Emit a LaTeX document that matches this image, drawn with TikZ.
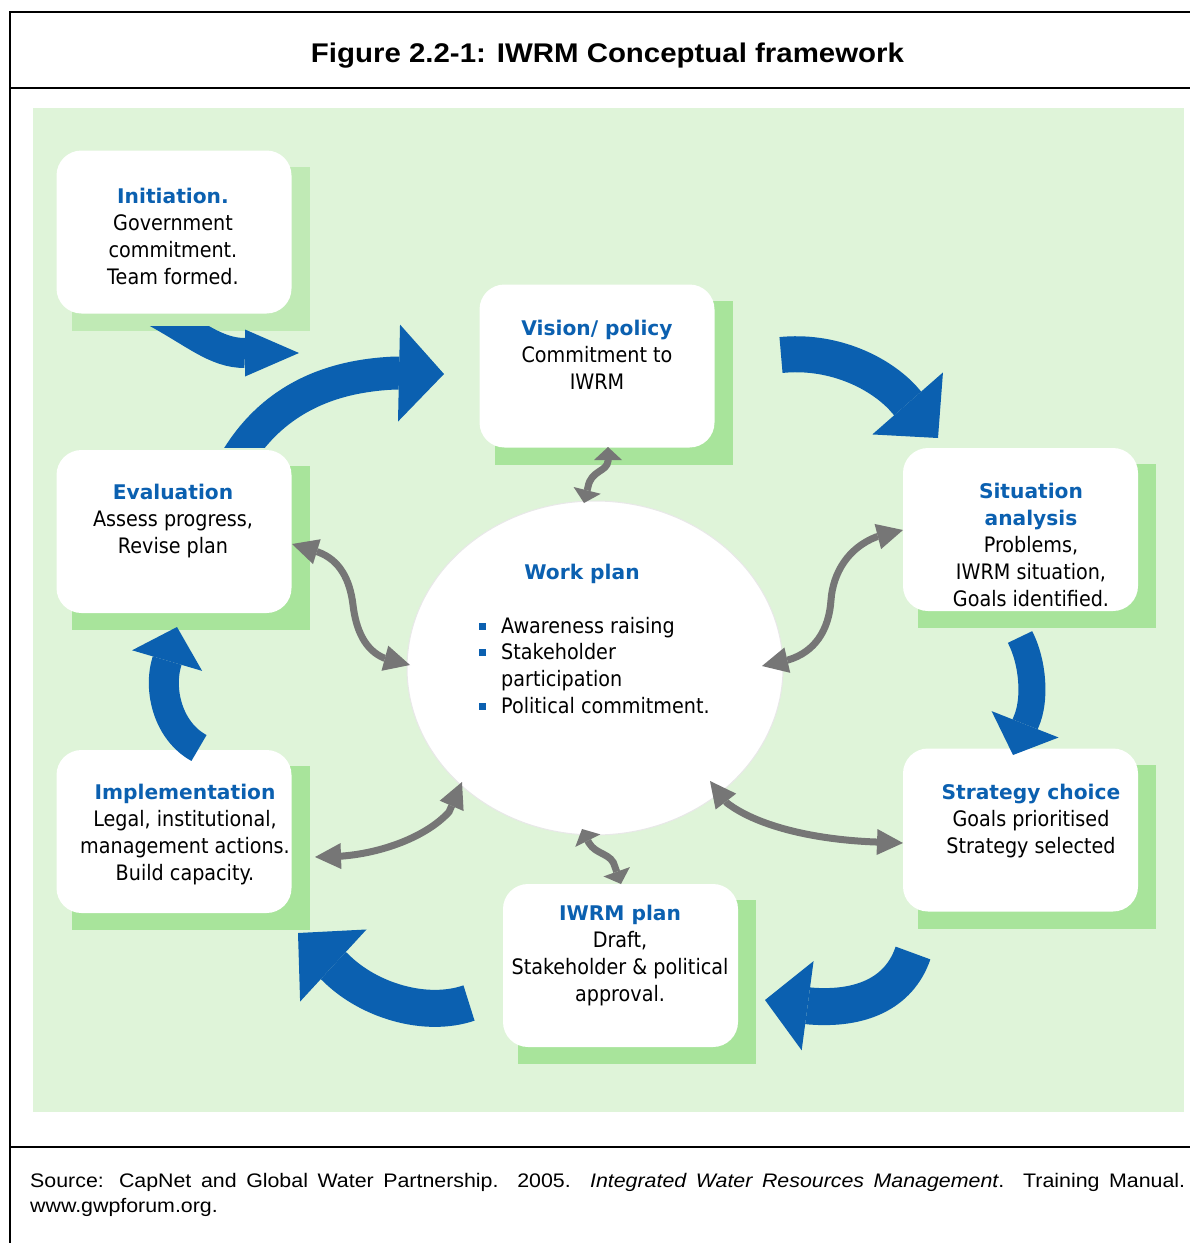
\documentclass[tikz,border=0pt]{standalone}
\usepackage{fontspec}
\usetikzlibrary{arrows.meta,shapes.geometric}
\newfontfamily\capfont[FakeStretch=1.09]{Liberation Sans}
\newfontfamily\bodyfam[FakeStretch=0.9]{DejaVu Sans}
\newfontfamily\headfam{DejaVu Sans}
\definecolor{panelgreen}{RGB}{223,244,217}
\definecolor{shadowgreen}{RGB}{168,228,155}
\definecolor{shadowlight}{RGB}{192,234,181}
\definecolor{iwblue}{RGB}{11,96,176}
\definecolor{arrgray}{RGB}{118,118,118}
\definecolor{ellline}{RGB}{232,232,232}
\newcommand{\boxhead}[1]{{\headfam\bfseries\fontsize{20.2}{27}\selectfont\color{iwblue}#1}}
\tikzset{
  framerule/.style={line width=2.2pt, draw=black},
  wbox/.style={fill=white, rounded corners=25pt, inner sep=0pt, minimum width=235pt, minimum height=163pt},
  shadowbox/.style={fill=shadowgreen, inner sep=0pt, minimum width=238pt, minimum height=164pt},
  boxtxt/.style={anchor=north, align=center, inner sep=0pt, font=\bodyfam\fontsize{21.3}{27}\selectfont},
  garrow/.style={draw=arrgray, line width=7pt, arrows={Triangle[length=26pt,width=26pt,line width=0pt]-Triangle[length=26pt,width=26pt,line width=0pt]}},
  gshort/.style={draw=arrgray, line width=7pt, arrows={Triangle[length=13pt,width=28pt,line width=0pt]-Triangle[length=13pt,width=28pt,line width=0pt]}},
  barrow/.style={draw=iwblue, line width=#1, line join=round},
}
\begin{document}
\begin{tikzpicture}[x=1pt,y=-1pt]
\useasboundingbox (0,0) rectangle (1190,1243);
\fill[white] (0,0) rectangle (1190,1243);
% frame
\draw[framerule] (10,1243) -- (10,12) -- (1190,12);
\draw[framerule] (10,88) -- (1190,88);
\draw[framerule] (10,1147) -- (1190,1147);
\node[anchor=base, inner sep=0pt, font=\capfont\bfseries\fontsize{27}{32}\selectfont] (title) at (607.5,62) {Figure 2.2-1: IWRM Conceptual framework};
% panel
\fill[panelgreen] (33,108) rectangle (1184,1112);
% shadows
\node[shadowbox, fill=shadowlight] (sh-init) at (190.5,248.5) {};
\node[shadowbox] (sh-vision) at (613.5,382.5) {};
\node[shadowbox] (sh-sit) at (1037,546) {};
\node[shadowbox] (sh-strat) at (1037,846.5) {};
\node[shadowbox] (sh-iwrm) at (637,982) {};
\node[shadowbox] (sh-impl) at (190.5,848) {};
\node[shadowbox] (sh-eval) at (190.5,548) {};
% white boxes
\node[wbox] (init) at (174,232) {};
\node[wbox] (vision) at (597,366) {};
\node[wbox] (sit) at (1020.5,529.5) {};
\node[wbox] (strat) at (1020.5,830) {};
\node[wbox] (iwrm) at (620.5,965.5) {};
\node[wbox] (impl) at (174,831.5) {};
\node[wbox] (eval) at (174,531.5) {};
% work plan ellipse
\node[ellipse, fill=white, draw=ellline, line width=1pt, minimum width=376pt, minimum height=334pt, inner sep=0pt] (work) at (595,668) {};
% texts
\node[boxtxt] (t-init) at (173,184) {\strut\boxhead{Initiation.}\\Government\\commitment.\\Team formed.};
\node[boxtxt] (t-vision) at (597,316) {\strut\boxhead{Vision/ policy}\\Commitment to\\IWRM};
\node[boxtxt] (t-sit) at (1031,479) {\strut\boxhead{Situation}\\\boxhead{analysis}\\Problems,\\IWRM situation,\\Goals identified.};
\node[boxtxt] (t-strat) at (1031,780) {\strut\boxhead{Strategy choice}\\Goals prioritised\\Strategy selected};
\node[boxtxt] (t-iwrm) at (620,901) {\strut\boxhead{IWRM plan}\\Draft,\\Stakeholder \& political\\approval.};
\node[boxtxt] (t-impl) at (185,780) {\strut\boxhead{Implementation}\\Legal, institutional,\\management actions.\\Build capacity.};
\node[boxtxt] (t-eval) at (173,480) {\strut\boxhead{Evaluation}\\Assess progress,\\Revise plan};
\node[anchor=base, inner sep=0pt] (t-work) at (582,579) {\boxhead{Work plan}};
\node[anchor=north west, align=left, inner sep=0pt, font=\bodyfam\fontsize{21.3}{26.7}\selectfont] (t-bul) at (501,614.3) {\strut Awareness raising\\Stakeholder\\participation\\Political commitment.};
\fill[iwblue] (478.5,622.5) rectangle (486,630);
\fill[iwblue] (478.5,648.5) rectangle (486,656);
\fill[iwblue] (478.5,702.5) rectangle (486,710);
% source
\node[anchor=base west, inner sep=0pt, font=\capfont\fontsize{19.6}{25}\selectfont] (src1) at (30,1187) {\makebox[1155pt][s]{Source: CapNet and Global Water Partnership. 2005.\ \ \textit{Integrated Water Resources Management}. Training Manual.}};
\node[anchor=base west, inner sep=0pt, font=\capfont\fontsize{19.6}{25}\selectfont] (src2) at (30,1212) {www.gwpforum.org.};
% gray double arrows
\coordinate (g1a) at (608,447); \coordinate (g1b) at (584,503);
\coordinate (g2a) at (292,544); \coordinate (g2b) at (410,665);
\coordinate (g3a) at (903,530); \coordinate (g3b) at (762,666);
\coordinate (g4a) at (315,857); \coordinate (g4b) at (462,782);
\coordinate (g5a) at (710,781); \coordinate (g5b) at (903,843);
\coordinate (g6a) at (582,829); \coordinate (g6b) at (621,884);
\draw[gshort] (g1a) -- (608,461) .. controls (607,472) and (591,470) .. (588,487) -- (g1b);
\draw[garrow] (g2a) -- (318,552) .. controls (340,560) and (350,580) .. (353,605) .. controls (356,630) and (365,650) .. (384,658) -- (g2b);
\draw[garrow] (g3a) -- (876,537) .. controls (848,548) and (833,573) .. (831,600) .. controls (829,630) and (815,652) .. (788,660) -- (g3b);
\draw[garrow] (g4a) -- (343,856) .. controls (380,853) and (425,838) .. (449,812) -- (g4b);
\draw[garrow] (g5a) -- (727,803) .. controls (760,828) and (820,840) .. (876,842) -- (g5b);
\draw[gshort] (g6a) -- (589,843) .. controls (596,855) and (612,853) .. (615,867) -- (g6b);
% blue cycle arrows
\coordinate (a1s) at (150,309); \coordinate (a1e) at (299,353);
\coordinate (a2s) at (228,475); \coordinate (a2e) at (444,374);
\coordinate (a3s) at (781,355); \coordinate (a3e) at (938,438);
\coordinate (a4s) at (1020,637); \coordinate (a4e) at (1013,755);
\coordinate (a5s) at (913,953); \coordinate (a5e) at (765,1000);
\coordinate (a6s) at (469,1003); \coordinate (a6e) at (298,933);
\coordinate (a7s) at (199,748); \coordinate (a7e) at (177,627);
\begin{scope}
\clip (0,326) rectangle (1190,1243);
\draw[barrow=30pt, arrows={-Triangle[length=54pt,width=47pt,line width=0pt]}] (a1s) .. controls (195,333) and (215,353) .. (245,353) -- (a1e);
\end{scope}
\begin{scope}
\clip (0,0) rectangle (1190,447);
\draw[barrow=33pt, arrows={-Triangle[length=45pt,width=97pt,line width=0pt]}] (a2s) .. controls (270,390) and (345,375) .. (396,373) -- (a2e);
\end{scope}
\draw[barrow=36pt, arrows={-Triangle[length=46pt,width=94pt,line width=0pt]}] (a3s) .. controls (830,350) and (876,370) .. (902,397) -- (a3e);
\draw[barrow=27pt, arrows={-Triangle[length=33pt,width=72pt,line width=0pt]}] (a4s) .. controls (1033,662) and (1036,700) .. (1026,722) -- (a4e);
\draw[barrow=37pt, arrows={-Triangle[length=43pt,width=90pt,line width=0pt]}] (a5s) .. controls (899,994) and (860,1010) .. (810,1006) -- (a5e);
\draw[barrow=37pt, arrows={-Triangle[length=48pt,width=98pt,line width=0pt]}] (a6s) .. controls (425,1018) and (368,1000) .. (336,968) -- (a6e);
\draw[barrow=30pt, arrows={-Triangle[length=35pt,width=73pt,line width=0pt]}] (a7s) .. controls (168,731) and (158,690) .. (167,661) -- (a7e);
\end{tikzpicture}
\end{document}
